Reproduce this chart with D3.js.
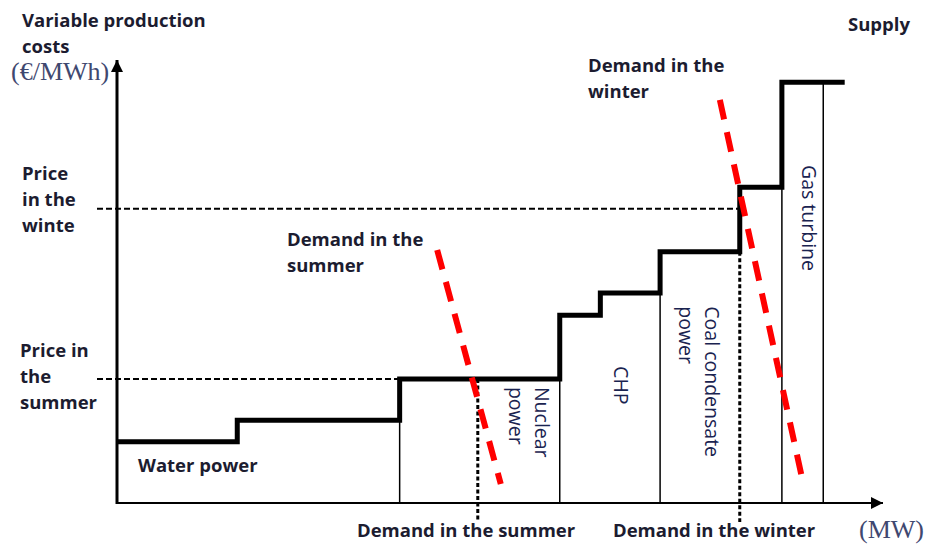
<!DOCTYPE html>
<html>
<head>
<meta charset="utf-8">
<script src="https://cdn.jsdelivr.net/npm/d3@7"></script>
<style>
  body { margin: 0; background: #fff; }
  svg { display: block; }
</style>
</head>
<body>
<div id="chart"></div>
<script>
// merit order chart - supply steps and two demand curves
var w = 930, h = 547;

// supply curve: capacity edges (MW, arbitrary) and cost of each step (€/MWh, arbitrary)
var stepEdges = [0, 15.7, 36.9, 57.8, 63.1, 70.9, 81.3, 86.8, 95.0];
var stepCosts = [13.8, 18.7, 28.0, 42.4, 47.4, 56.7, 71.3, 95.0];

// plant borders (thin lines down to the x axis)
var plantEdges = [36.9, 57.8, 70.9, 86.8, 92.2];

// demand
var demandQty = { summer: 47.1, winter: 81.3 };
var demandPrice = { summer: 28.0, winter: 66.4 };
var summerDemand = [[41.8, 57.1], [50.1, 4.3]];
var winterDemand = [[78.7, 91.0], [89.6, 4.3]];

// plant labels, written vertically
var plantLabels = [
	{ lines: ["Nuclear", "power"], x: 54.6, y: 26.2 },
	{ lines: ["CHP"], x: 64.9, y: 30.9 },
	{ lines: ["Coal condensate", "power"], x: 76.8, y: 44.4 },
	{ lines: ["Gas turbine"], x: 89.4, y: 76.3 }
];

var x = d3.scaleLinear().domain([0, 100]).range([117, 883]);
var y = d3.scaleLinear().domain([0, 100]).range([503, 60]);

var svg = d3.select("#chart").append("svg")
	.attr("width", w)
	.attr("height", h);

var defs = svg.append("defs");
defs.append("marker")
	.attr("id", "arrow")
	.attr("viewBox", "0 0 10 10")
	.attr("refX", 10).attr("refY", 5)
	.attr("markerWidth", 15).attr("markerHeight", 12)
	.attr("markerUnits", "userSpaceOnUse")
	.attr("orient", "auto")
	.append("path")
	.attr("d", "M0,0L10,5L0,10Z")
	.attr("fill", "#000");

// axes with no ticks, just the lines
var xAxis = svg.append("g")
	.attr("transform", "translate(0," + y(0) + ")")
	.call(d3.axisBottom(x).tickValues([]).tickSizeOuter(0));
xAxis.select(".domain")
	.attr("d", "M" + x(0) + ",0H" + x(100))
	.attr("stroke-width", 2)
	.attr("marker-end", "url(#arrow)");

var yAxis = svg.append("g")
	.attr("transform", "translate(" + x(0) + ",0)")
	.call(d3.axisLeft(y).tickValues([]).tickSizeOuter(0));
yAxis.select(".domain")
	.attr("d", "M0," + (y(0) + 1) + "V" + y(100))
	.attr("stroke-width", 3)
	.attr("marker-end", "url(#arrow)");

// thin plant borders
function costAt(q) {
	for (var i = 0; i < stepCosts.length; i++) {
		if (q <= stepEdges[i + 1] + 0.01) return stepCosts[i];
	}
	return stepCosts[stepCosts.length - 1];
}
svg.selectAll(".border")
	.data(plantEdges)
	.enter().append("line")
	.attr("class", "border")
	.attr("x1", function(d) { return x(d); })
	.attr("x2", function(d) { return x(d); })
	.attr("y1", y(0))
	.attr("y2", function(d) { return y(costAt(d)); })
	.attr("stroke", "#000")
	.attr("stroke-width", 1.5);

// dashed price lines
var priceLines = [demandPrice.summer, demandPrice.winter];
var priceEnds = [36.9, demandQty.winter];
svg.selectAll(".price")
	.data(priceLines)
	.enter().append("line")
	.attr("class", "price")
	.attr("x1", x(0) - 20)
	.attr("x2", function(d, i) { return x(priceEnds[i]); })
	.attr("y1", function(d) { return y(d); })
	.attr("y2", function(d) { return y(d); })
	.attr("stroke", "#000")
	.attr("stroke-width", 2)
	.attr("stroke-dasharray", "6,3");

// dotted demand quantity lines
svg.selectAll(".qty")
	.data([demandQty.summer, demandQty.winter])
	.enter().append("line")
	.attr("class", "qty")
	.attr("x1", function(d) { return x(d); })
	.attr("x2", function(d) { return x(d); })
	.attr("y1", function(d) { return y(costAt(d)); })
	.attr("y2", y(0) + 19)
	.attr("stroke", "#000")
	.attr("stroke-width", 3)
	.attr("stroke-dasharray", "4,2.5");

// supply curve
var supplyPts = [];
for (var i = 0; i < stepCosts.length; i++) {
	supplyPts.push([stepEdges[i], stepCosts[i]]);
	supplyPts.push([stepEdges[i + 1], stepCosts[i]]);
}
var line = d3.line()
	.x(function(d) { return x(d[0]); })
	.y(function(d) { return y(d[1]); });

svg.append("path")
	.datum(supplyPts)
	.attr("d", line)
	.attr("fill", "none")
	.attr("stroke", "#000")
	.attr("stroke-width", 5)
	.attr("stroke-linejoin", "miter");

// demand curves
svg.selectAll(".demand")
	.data([summerDemand, winterDemand])
	.enter().append("path")
	.attr("class", "demand")
	.attr("d", line)
	.attr("stroke", "#ff0000")
	.attr("stroke-width", 6)
	.attr("stroke-dasharray", "20,13")
	.attr("fill", "none");

// labels
var font = "'Open Sans', sans-serif";
var textColor = "#1c1c30";
var labels = [
	{ t: "Variable production", x: 22, y: 27 },
	{ t: "costs", x: 22, y: 53 },
	{ t: "Supply", x: 848, y: 31 },
	{ t: "Demand in the", x: 588, y: 72 },
	{ t: "winter", x: 588, y: 98 },
	{ t: "Price", x: 22, y: 180 },
	{ t: "in the", x: 22, y: 206 },
	{ t: "winte", x: 22, y: 232 },
	{ t: "Price in", x: 20, y: 357 },
	{ t: "the", x: 20, y: 383 },
	{ t: "summer", x: 20, y: 409 },
	{ t: "Demand in the", x: 287, y: 246 },
	{ t: "summer", x: 287, y: 272 },
	{ t: "Water power", x: 138, y: 472 },
	{ t: "Demand in the summer", x: 357, y: 537 },
	{ t: "Demand in the winter", x: 613, y: 537 }
];
svg.selectAll(".lbl")
	.data(labels)
	.enter().append("text")
	.attr("class", "lbl")
	.attr("x", function(d) { return d.x; })
	.attr("y", function(d) { return d.y; })
	.attr("font-family", font)
	.attr("font-weight", 700)
	.attr("font-size", 18.5)
	.attr("fill", textColor)
	.text(function(d) { return d.t; });

// units in serif
svg.append("text")
	.attr("x", 11).attr("y", 80)
	.attr("font-family", "'Liberation Serif', serif")
	.attr("font-size", 26)
	.attr("fill", "#3f4870")
	.text("(€/MWh)");
svg.append("text")
	.attr("x", 859).attr("y", 538)
	.attr("font-family", "'Liberation Serif', serif")
	.attr("font-size", 26)
	.attr("fill", "#3f4870")
	.text("(MW)");

// vertical plant labels
plantLabels.forEach(function(p) {
	var g = svg.append("g")
		.attr("transform", "translate(" + x(p.x) + "," + y(p.y) + ") rotate(90)");
	g.selectAll("text")
		.data(p.lines)
		.enter().append("text")
		.attr("x", 0)
		.attr("y", function(d, i) { return i * 26; })
		.attr("font-family", font)
		.attr("font-size", 19.5)
		.attr("fill", "#1a2350")
		.text(function(d) { return d; });
});
</script>
</body>
</html>
